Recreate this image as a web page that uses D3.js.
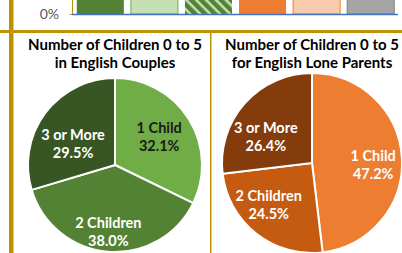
<!DOCTYPE html>
<html>
<head>
<meta charset="utf-8">
<script src="https://cdn.jsdelivr.net/npm/d3@7"></script>
<style>
  html, body { margin: 0; padding: 0; background: #fff; }
  svg { display: block; font-family: Lato, "Open Sans", sans-serif; }
</style>
</head>
<body>
<div id="chart"></div>
<script>
// top bar chart (only its bottom strip is visible)
const barCategories = ['Couples 1 Child', 'Couples 2 Children', 'Couples 3 or More',
  'Lone Parents 1 Child', 'Lone Parents 2 Children', 'Lone Parents 3 or More'];
const barValues = [0.32, 0.38, 0.30, 0.47, 0.25, 0.26];
const barTicks = [0];

// pies
const pieCategories = ['1 Child', '2 Children', '3 or More'];
const couplesValues = [32.1, 38.0, 29.5];
const loneValues = [47.2, 24.5, 26.4];
const couplesTitle = ['Number of Children 0 to 5', 'in English Couples'];
const loneTitle = ['Number of Children 0 to 5', 'for English Lone Parents'];

const width = 402, height = 253;
const gold = '#BF9000';

const svg = d3.select('#chart').append('svg')
  .attr('width', width)
  .attr('height', height);

// ---- bar strip ----
const x = d3.scaleBand()
  .domain(barCategories)
  .range([73, 398])
  .paddingInner(0.13)
  .paddingOuter(0.07);

const y = d3.scaleLinear()
  .domain([0, 0.5])
  .range([14, -186]);

const defs = svg.append('defs');
const hatch = defs.append('pattern')
  .attr('id', 'hatch')
  .attr('patternUnits', 'userSpaceOnUse')
  .attr('width', 7)
  .attr('height', 7)
  .attr('patternTransform', 'rotate(45)');
hatch.append('rect').attr('width', 7).attr('height', 7).attr('fill', '#548235');
hatch.append('rect').attr('width', 7).attr('height', 2.5).attr('fill', '#C5E0B4');

const barFill = ['#548235', '#C5E0B4', 'url(#hatch)', '#ED7D31', '#F8CBAD', '#A5A5A5'];
const barStroke = ['none', '#70AD47', 'none', 'none', '#ED7D31', '#7F7F7F'];

svg.append('g')
  .selectAll('rect')
  .data(barValues)
  .join('rect')
  .attr('x', (d, i) => x(barCategories[i]))
  .attr('y', d => y(d))
  .attr('width', x.bandwidth())
  .attr('height', d => y(0) - y(d))
  .attr('fill', (d, i) => barFill[i])
  .attr('stroke', (d, i) => barStroke[i])
  .attr('stroke-width', 1);

// value axis line + 0% label
svg.append('line')
  .attr('x1', 72.5).attr('x2', 72.5)
  .attr('y1', 0).attr('y2', y(0))
  .attr('stroke', gold).attr('stroke-width', 1);

svg.append('g')
  .attr('transform', 'translate(72.5,0)')
  .attr('font-size', null)
  .attr('font-family', null)
  .call(d3.axisLeft(y).tickValues(barTicks).tickFormat(d3.format('.0%')).tickSize(3).tickPadding(10.5))
  .call(g => g.select('.domain').remove())
  .call(g => g.selectAll('.tick line').attr('stroke', gold))
  .call(g => g.selectAll('text')
    .attr('fill', '#595959')
    .attr('dy', '0.3em')
    .attr('font-size', 14)
    .style('font-family', 'Lato, sans-serif')
    .style('font-size', '14px'));

svg.append('line')
  .attr('x1', 72).attr('x2', 398)
  .attr('y1', y(0) + 0.5).attr('y2', y(0) + 0.5)
  .attr('stroke', '#4472C4').attr('stroke-width', 1.3);

// ---- frame lines ----
svg.append('rect')
  .attr('x', 0).attr('y', 30)
  .attr('width', width).attr('height', 3)
  .attr('fill', gold);
svg.append('rect')
  .attr('x', 9).attr('y', 0)
  .attr('width', 4.5).attr('height', height)
  .attr('fill', gold);
svg.append('line')
  .attr('x1', 210.75).attr('x2', 210.75)
  .attr('y1', 33).attr('y2', height)
  .attr('stroke', gold).attr('stroke-width', 1.5);

// ---- pies ----
const pie = d3.pie().sort(null).value(d => d);

// labelPos: [fraction of radius, angle shift in degrees]
function drawPie(values, colors, textColors, title, cx, cy, r, labelPos) {
  const g = svg.append('g').attr('transform', `translate(${cx},${cy})`);
  const arc = d3.arc().innerRadius(0).outerRadius(r);

  g.selectAll('path')
    .data(pie(values))
    .join('path')
    .attr('d', arc)
    .attr('fill', (d, i) => colors[i])
    .attr('stroke', '#fff')
    .attr('stroke-width', 2)
    .attr('stroke-linejoin', 'round');

  g.selectAll('text.lbl')
    .data(pie(values))
    .join('text')
    .attr('class', 'lbl')
    .attr('text-anchor', 'middle')
    .attr('fill', (d, i) => textColors[i])
    .style('font-size', '14.5px')
    .style('font-weight', 700)
    .each(function(d, i) {
      const a = (d.startAngle + d.endAngle) / 2 + labelPos[i][1] * Math.PI / 180;
      const rr = r * labelPos[i][0];
      const cxl = rr * Math.sin(a), cyl = -rr * Math.cos(a);
      const t = d3.select(this);
      t.append('tspan').attr('x', cxl).attr('y', cyl - 3.5).text(pieCategories[i]);
      t.append('tspan').attr('x', cxl).attr('y', cyl + 14.5).text(d3.format('.1f')(d.data) + '%');
    });

  svg.append('text')
    .attr('text-anchor', 'middle')
    .attr('fill', '#000')
    .style('font-size', '15px')
    .style('font-weight', 700)
    .selectAll('tspan')
    .data(title)
    .join('tspan')
    .attr('x', cx)
    .attr('y', (d, i) => 50 + i * 18)
    .text(d => d);
}

drawPie(couplesValues, ['#70AD47', '#548235', '#375623'], ['#1a1a1a', '#fff', '#fff'],
  couplesTitle, 115, 165, 87, [[0.606, -1], [0.77, 1], [0.54, -10]]);
drawPie(loneValues, ['#ED7D31', '#C55A11', '#843C0C'], ['#fff', '#fff', '#fff'],
  loneTitle, 312, 163, 90, [[0.68, 5], [0.667, 8], [0.59, -12]]);
</script>
</body>
</html>
